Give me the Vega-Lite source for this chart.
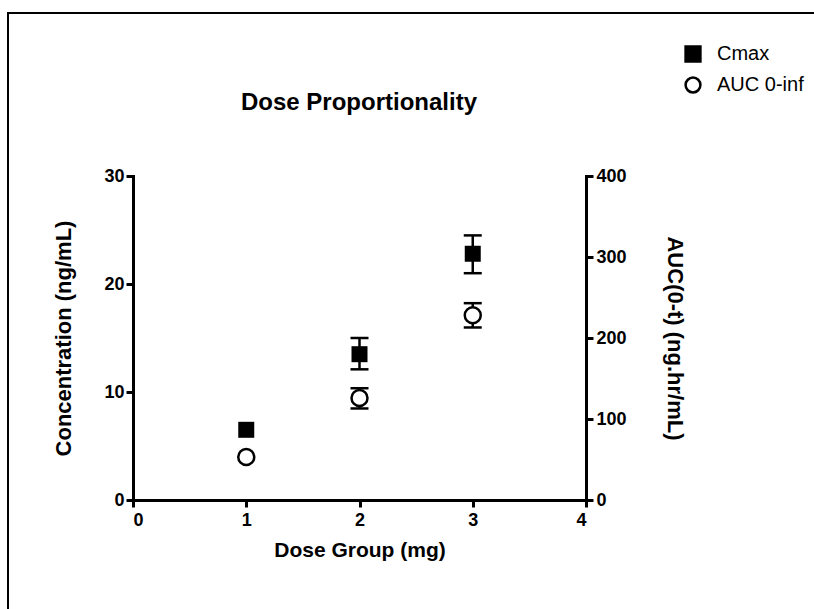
{
  "$schema": "https://vega.github.io/schema/vega-lite/v6.json",
  "width": 812,
  "height": 602,
  "autosize": {"type": "none"},
  "padding": {"left": 8, "top": 13, "right": 0, "bottom": 0},
  "background": "white",
  "config": {
    "view": {"stroke": "black", "strokeWidth": 2},
    "font": "Liberation Sans",
    "axis": {
      "domainColor": "black", "domainWidth": 3, "domainCap": "square",
      "tickColor": "black", "tickWidth": 3, "tickSize": 7,
      "labelFont": "Liberation Sans", "labelFontSize": 18, "labelFontWeight": "bold", "labelColor": "black",
      "titleFont": "Liberation Sans", "titleFontSize": 22, "titleFontWeight": "bold", "titleColor": "black",
      "grid": false
    }
  },
  "title": {
    "text": "Dose Proportionality", "font": "Liberation Sans", "fontSize": 24, "fontWeight": "bold", "color": "black",
    "anchor": "middle", "frame": "group", "offset": 0, "baseline": "middle", "dx": -55, "dy": 114
  },
  "data": {
    "values": [
      {"dose": 1, "series": "Cmax", "value": 6.5},
      {"dose": 2, "series": "Cmax", "value": 13.5, "lo": 12.1, "hi": 15.0},
      {"dose": 3, "series": "Cmax", "value": 22.8, "lo": 21.0, "hi": 24.5},
      {"dose": 1, "series": "AUC 0-inf", "value": 53},
      {"dose": 2, "series": "AUC 0-inf", "value": 126, "lo": 113, "hi": 138},
      {"dose": 3, "series": "AUC 0-inf", "value": 228, "lo": 213, "hi": 243}
    ]
  },
  "encoding": {
    "x": {
      "field": "dose", "type": "quantitative",
      "scale": {"domain": [0, 4], "range": [125, 578], "nice": false},
      "axis": {"title": "Dose Group (mg)", "orient": "bottom", "offset": -115, "values": [0, 1, 2, 3, 4], "labelPadding": 4, "titlePadding": 10, "titleFontSize": 21}
    }
  },
  "layer": [
    {
      "transform": [{"filter": "datum.series === 'Cmax'"}],
      "layer": [
        {
          "transform": [{"filter": "isValid(datum.lo)"}],
          "mark": {"type": "errorbar", "color": "black", "opacity": 1, "thickness": 2.5, "rule": {"opacity": 1, "color": "black"}, "ticks": {"size": 18, "thickness": 2.5, "color": "black", "opacity": 1}},
          "encoding": {
            "y": {"field": "lo", "type": "quantitative", "scale": {"domain": [0, 30], "range": [487, 163], "nice": false}, "axis": {"title": "Concentration (ng/mL)", "orient": "left", "offset": -125, "values": [0, 10, 20, 30], "labelPadding": 2, "titlePadding": 28}},
            "y2": {"field": "hi"}
          }
        },
        {
          "mark": {"type": "point", "filled": true, "opacity": 1, "size": 256, "strokeWidth": 0},
          "encoding": {
            "y": {"field": "value", "type": "quantitative", "scale": {"domain": [0, 30], "range": [487, 163], "nice": false}, "axis": {"title": "Concentration (ng/mL)", "orient": "left", "offset": -125, "values": [0, 10, 20, 30], "labelPadding": 2, "titlePadding": 28}},
            "shape": {"field": "series", "type": "nominal", "scale": {"domain": ["Cmax", "AUC 0-inf"], "range": ["square", "circle"]},
              "legend": {"title": null, "orient": "none", "legendX": 675, "legendY": 31, "labelFont": "Liberation Sans", "labelFontSize": 20, "labelColor": "black", "symbolSize": 220, "symbolStrokeWidth": 2.5, "rowPadding": 5, "labelOffset": 14, "padding": 0}},
            "fill": {"field": "series", "type": "nominal", "scale": {"domain": ["Cmax", "AUC 0-inf"], "range": ["black", "white"]},
              "legend": {"title": null, "orient": "none", "legendX": 675, "legendY": 31, "labelFont": "Liberation Sans", "labelFontSize": 20, "labelColor": "black", "symbolSize": 220, "symbolStrokeWidth": 2.5, "rowPadding": 5, "labelOffset": 14, "padding": 0}},
            "stroke": {"field": "series", "type": "nominal", "scale": {"domain": ["Cmax", "AUC 0-inf"], "range": ["black", "black"]},
              "legend": {"title": null, "orient": "none", "legendX": 675, "legendY": 31, "labelFont": "Liberation Sans", "labelFontSize": 20, "labelColor": "black", "symbolSize": 220, "symbolStrokeWidth": 2.5, "rowPadding": 5, "labelOffset": 14, "padding": 0}}
          }
        }
      ]
    },
    {
      "transform": [{"filter": "datum.series === 'AUC 0-inf'"}],
      "layer": [
        {
          "transform": [{"filter": "isValid(datum.lo)"}],
          "mark": {"type": "errorbar", "color": "black", "opacity": 1, "thickness": 2.5, "rule": {"opacity": 1, "color": "black"}, "ticks": {"size": 18, "thickness": 2.5, "color": "black", "opacity": 1}},
          "encoding": {
            "y": {"field": "lo", "type": "quantitative", "scale": {"domain": [0, 400], "range": [487, 163], "nice": false}, "axis": {"title": "AUC(0-t) (ng.hr/mL)", "orient": "right", "offset": -234, "values": [0, 100, 200, 300, 400], "labelPadding": 3, "titlePadding": 36, "titleAngle": 90}},
            "y2": {"field": "hi"}
          }
        },
        {
          "mark": {"type": "point", "filled": true, "opacity": 1, "size": 256, "strokeWidth": 2.5},
          "encoding": {
            "y": {"field": "value", "type": "quantitative", "scale": {"domain": [0, 400], "range": [487, 163], "nice": false}, "axis": {"title": "AUC(0-t) (ng.hr/mL)", "orient": "right", "offset": -234, "values": [0, 100, 200, 300, 400], "labelPadding": 3, "titlePadding": 36, "titleAngle": 90}},
            "shape": {"field": "series", "type": "nominal", "scale": {"domain": ["Cmax", "AUC 0-inf"], "range": ["square", "circle"]},
              "legend": {"title": null, "orient": "none", "legendX": 675, "legendY": 31, "labelFont": "Liberation Sans", "labelFontSize": 20, "labelColor": "black", "symbolSize": 220, "symbolStrokeWidth": 2.5, "rowPadding": 5, "labelOffset": 14, "padding": 0}},
            "fill": {"field": "series", "type": "nominal", "scale": {"domain": ["Cmax", "AUC 0-inf"], "range": ["black", "white"]},
              "legend": {"title": null, "orient": "none", "legendX": 675, "legendY": 31, "labelFont": "Liberation Sans", "labelFontSize": 20, "labelColor": "black", "symbolSize": 220, "symbolStrokeWidth": 2.5, "rowPadding": 5, "labelOffset": 14, "padding": 0}},
            "stroke": {"field": "series", "type": "nominal", "scale": {"domain": ["Cmax", "AUC 0-inf"], "range": ["black", "black"]},
              "legend": {"title": null, "orient": "none", "legendX": 675, "legendY": 31, "labelFont": "Liberation Sans", "labelFontSize": 20, "labelColor": "black", "symbolSize": 220, "symbolStrokeWidth": 2.5, "rowPadding": 5, "labelOffset": 14, "padding": 0}}
          }
        }
      ]
    }
  ],
  "resolve": {"scale": {"y": "independent"}}
}
